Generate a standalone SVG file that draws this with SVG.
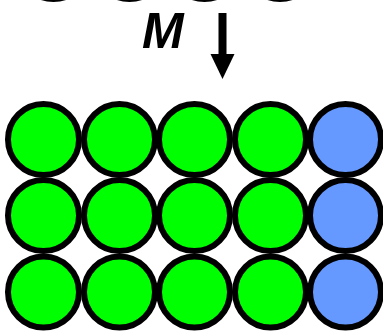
<svg xmlns="http://www.w3.org/2000/svg" width="383" height="336" viewBox="0 0 383 336">
<style>
.c{stroke:#000;stroke-width:6}
.g{fill:#00ff00}
.b{fill:#6699ff}
.lbl{font-family:"Liberation Sans",Arial,sans-serif;font-weight:bold;font-style:italic;font-size:50px;fill:#000}
</style>
<rect width="383" height="336" fill="#fff"/>
<g id="top-row">
<circle class="c g" cx="53.5" cy="-36.5" r="35.5"/>
<circle class="c g" cx="129.5" cy="-36.5" r="35.5"/>
<circle class="c g" cx="204.5" cy="-36.5" r="35.5"/>
<circle class="c g" cx="280" cy="-36.5" r="35.5"/>
</g>
<g id="label-M"><text class="lbl" x="142" y="48">M</text></g>
<g id="connectors">
<rect x="218.5" y="13" width="8" height="42" fill="#000"/>
<polygon points="210.5,54 234.5,54 222.5,79" fill="#000"/>
</g>
<g id="n-r1c1"><circle class="c g" cx="43.5" cy="139.5" r="35.5"/></g>
<g id="n-r1c2"><circle class="c g" cx="119.5" cy="139.5" r="35.5"/></g>
<g id="n-r1c3"><circle class="c g" cx="194.5" cy="139.5" r="35.5"/></g>
<g id="n-r1c4"><circle class="c g" cx="270.5" cy="139.5" r="35.5"/></g>
<g id="n-r1c5"><circle class="c b" cx="345.5" cy="139.5" r="35.5"/></g>
<g id="n-r2c1"><circle class="c g" cx="43.5" cy="215.5" r="35.5"/></g>
<g id="n-r2c2"><circle class="c g" cx="119.5" cy="215.5" r="35.5"/></g>
<g id="n-r2c3"><circle class="c g" cx="194.5" cy="215.5" r="35.5"/></g>
<g id="n-r2c4"><circle class="c g" cx="270.5" cy="215.5" r="35.5"/></g>
<g id="n-r2c5"><circle class="c b" cx="345.5" cy="215.5" r="35.5"/></g>
<g id="n-r3c1"><circle class="c g" cx="43.5" cy="292" r="35.5"/></g>
<g id="n-r3c2"><circle class="c g" cx="119.5" cy="292" r="35.5"/></g>
<g id="n-r3c3"><circle class="c g" cx="194.5" cy="292" r="35.5"/></g>
<g id="n-r3c4"><circle class="c g" cx="270.5" cy="292" r="35.5"/></g>
<g id="n-r3c5"><circle class="c b" cx="345.5" cy="292" r="35.5"/></g>
</svg>
